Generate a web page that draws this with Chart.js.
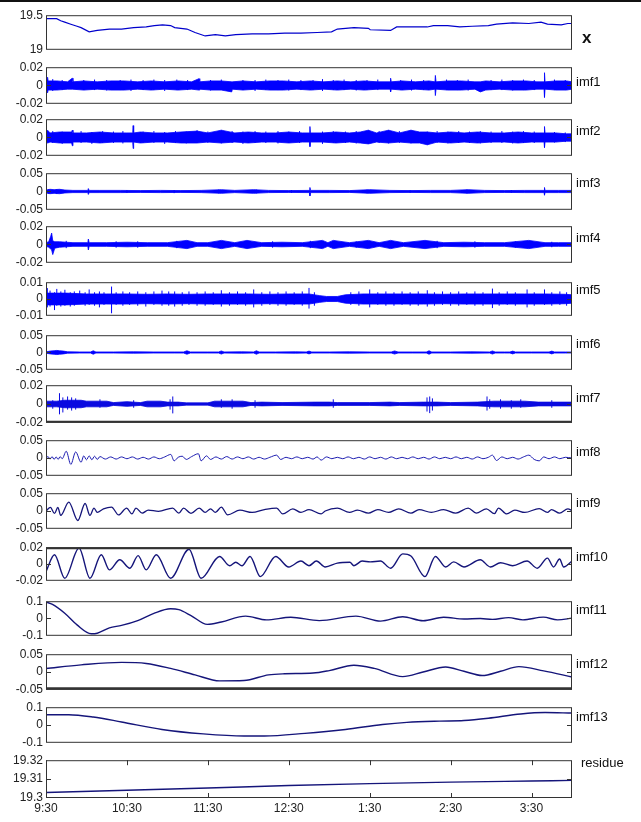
<!DOCTYPE html>
<html>
<head>
<meta charset="utf-8">
<script src="https://cdn.jsdelivr.net/npm/chart.js@4.4.0/dist/chart.umd.min.js"></script>
<style>
  body { margin: 0; background: #fff; width: 641px; height: 822px; position: relative; overflow: hidden;
         font-family: "Liberation Sans", Arial, sans-serif; }
  .topline { position: absolute; left: 0; top: 0; width: 641px; height: 2px; background: #111; }
  .lbl { position: absolute; font-size: 13px; line-height: 16px; color: #111; white-space: nowrap; }
</style>
</head>
<body>
<div class="topline"></div>
<script>
// time axis is in minutes after 9:30
const timeTicks = [0, 60, 120, 180, 240, 300, 360];
const timeLabels = ['9:30', '10:30', '11:30', '12:30', '1:30', '2:30', '3:30'];

// original series x
const xT = [0, 7.9, 10.9, 13.9, 18.4, 23, 26, 32, 38, 47, 56, 65, 74.3, 80.3, 86.4, 92.4, 95.4, 104.5, 110.5, 118,
  125.6, 133, 140.7, 152.8, 165, 177, 189, 201, 211.7, 216, 228.3, 239, 240.4, 255.5, 260, 270.6, 282.7, 287.2, 297.8, 306.8,
  316, 328, 334, 346, 358, 367, 371.8, 382, 386.9, 390];
const xV = [19.45, 19.45, 19.42, 19.40, 19.37, 19.34, 19.32, 19.26, 19.28, 19.30, 19.30, 19.32, 19.33, 19.35, 19.36, 19.35, 19.32, 19.30, 19.25, 19.20,
  19.22, 19.20, 19.22, 19.23, 19.23, 19.24, 19.24, 19.25, 19.26, 19.30, 19.32, 19.31, 19.29, 19.28, 19.33, 19.33, 19.33, 19.35, 19.35, 19.33,
  19.34, 19.35, 19.37, 19.39, 19.38, 19.40, 19.37, 19.36, 19.38, 19.38];

// imf1..imf7 are dense noise: a band (upper / lower envelope) plus the single spikes that stick out of it
const imf1T = [0, 1.2, 1.6, 8, 16, 19.5, 20, 28, 38, 48, 58, 68, 78, 88, 98, 108, 113.5, 114, 122, 130,
  137.7, 138.2, 146, 156, 166, 176, 186, 196, 206, 216, 226, 236, 246, 255.2, 255.5, 256, 264, 274, 284, 288.4,
  288.7, 289.2, 298, 308, 318, 322, 326, 336, 346, 356, 364, 369.3, 369.6, 370, 378, 386, 390];
const imf1U = [.004, .009, .005, .005, .004, .008, .004, .005, .004, .005, .005, .004, .005, .004, .005, .004, .0075, .004, .005, .005,
  .004, .004, .005, .004, .005, .005, .004, .005, .004, .005, .004, .005, .004, .004, .008, .004, .005, .004, .005, .004,
  .011, .004, .005, .005, .004, .004, .005, .004, .005, .005, .004, .004, .014, .004, .005, .005, .004];
const imf1L = [-.004, -.008, -.005, -.005, -.004, -.004, -.004, -.005, -.004, -.005, -.005, -.004, -.005, -.004, -.005, -.004, -.005, -.004, -.005, -.005,
  -.007, -.004, -.005, -.004, -.005, -.005, -.004, -.005, -.004, -.005, -.004, -.005, -.004, -.004, -.007, -.004, -.005, -.004, -.005, -.004,
  -.011, -.004, -.005, -.005, -.004, -.007, -.005, -.004, -.005, -.005, -.004, -.004, -.013, -.004, -.005, -.005, -.004];
const imf1S  = [5, 12, 28, 36, 45, 55, 63, 72, 80, 88, 97, 105, 122, 130, 146, 155, 163, 172, 180, 189,
  198, 205, 213, 221, 230, 238, 246, 263, 271, 280, 297, 305, 313, 330, 338, 346, 354, 362, 377, 385];
const imf1SH = [.007, .006, .006, .0065, .006, .006, .0065, .006, .0065, .006, .0065, .006, .006, .0065, .006, .006, .0065, .006, .0065, .006,
  .006, .007, .006, .0065, .006, .006, .0065, .006, .0065, .006, .0065, .006, .0065, .006, .0065, .006, .0065, .006, .0065, .006];
const imf1SL = [-.006, -.005, -.005, -.005, -.0055, -.005, -.006, -.005, -.005, -.006, -.005, -.005, -.0055, -.005, -.005, -.006, -.005, -.005, -.0055, -.005,
  -.005, -.006, -.005, -.005, -.0055, -.005, -.005, -.005, -.0055, -.005, -.005, -.005, -.0055, -.005, -.005, -.0055, -.005, -.005, -.005, -.005];

const imf2T = [0, 1.2, 3, 10, 19, 19.5, 20, 30, 40, 50, 60, 64.3, 64.6, 65, 70, 80, 90, 100, 112, 120,
  130, 140, 150, 160, 170, 180, 190, 195.4, 195.7, 196, 205, 215, 225, 233, 239, 245, 254, 262, 270.6, 277,
  282.7, 290, 300, 310, 320, 330, 340, 350, 360, 369.3, 369.6, 370, 378, 386, 390];
const imf2U = [.005, .008, .005, .006, .006, .008, .005, .005, .006, .005, .005, .005, .013, .005, .006, .005, .005, .006, .007, .005,
  .008, .005, .006, .005, .005, .006, .005, .005, .012, .005, .005, .006, .005, .006, .008, .005, .008, .005, .008, .006,
  .006, .005, .006, .005, .006, .005, .005, .006, .005, .005, .012, .005, .005, .004, .004];
const imf2L = [-.005, -.006, -.005, -.006, -.006, -.009, -.005, -.005, -.006, -.005, -.005, -.005, -.012, -.005, -.006, -.005, -.005, -.006, -.006, -.005,
  -.006, -.005, -.006, -.005, -.005, -.006, -.005, -.005, -.01, -.005, -.005, -.006, -.005, -.006, -.007, -.005, -.006, -.005, -.006, -.006,
  -.008, -.005, -.006, -.005, -.006, -.005, -.005, -.006, -.005, -.005, -.011, -.005, -.005, -.004, -.004];
const imf2S  = [5, 12, 26, 34, 42, 50, 57, 72, 80, 88, 96, 104, 112, 120, 130, 138, 146, 155, 163, 172,
  180, 188, 205, 213, 222, 230, 239, 247, 254, 262, 270.6, 282.7, 290, 298, 306, 314, 322, 330, 338, 346, 354, 362, 377, 385];
const imf2SH = [.007, .0065, .007, .006, .007, .0065, .007, .0065, .007, .006, .007, .0065, .008, .0065, .008, .007, .0065, .007, .0065, .007,
  .0065, .007, .0065, .007, .0065, .007, .008, .007, .008, .007, .008, .0065, .007, .0065, .007, .0065, .007, .0065, .007, .0065, .007, .0065, .006, .0055];
const imf2SL = [-.006, -.007, -.006, -.007, -.006, -.006, -.0065, -.006, -.006, -.007, -.006, -.0065, -.006, -.006, -.0065, -.006, -.007, -.006, -.006, -.0065,
  -.006, -.006, -.007, -.006, -.006, -.0065, -.007, -.006, -.0065, -.006, -.0065, -.008, -.006, -.0065, -.006, -.006, -.0065, -.006, -.006, -.0065, -.006, -.006, -.0055, -.005];

const imf3T = [0, 3, 6, 10, 14, 20, 31, 31.4, 32, 40, 55, 70, 85, 100, 115, 130, 140, 154, 165, 180,
  195.3, 195.7, 196.1, 210, 225, 240, 255, 270, 285, 300, 313, 325, 340, 355, 369.3, 369.6, 370, 380, 390];
const imf3U = [.004, .006, .005, .006, .004, .003, .003, .008, .003, .003, .003, .0025, .003, .0025, .003, .005, .003, .005, .003, .0025,
  .003, .011, .003, .003, .0025, .005, .003, .0025, .003, .003, .005, .003, .0025, .003, .003, .011, .003, .003, .003];
const imf3L = [-.004, -.006, -.005, -.006, -.004, -.003, -.003, -.008, -.003, -.003, -.003, -.0025, -.003, -.0025, -.003, -.005, -.003, -.005, -.003, -.0025,
  -.003, -.012, -.003, -.003, -.0025, -.005, -.003, -.0025, -.003, -.003, -.005, -.003, -.0025, -.003, -.003, -.01, -.003, -.003, -.003];
const imf3S  = [2, 8, 60, 95, 128, 156, 182, 238, 270, 312, 345];
const imf3SH = [.006, .006, .004, .004, .005, .005, .004, .005, .004, .005, .004];
const imf3SL = [-.006, -.007, -.004, -.0045, -.005, -.005, -.004, -.005, -.004, -.005, -.004];

const imf4T = [0, 2, 3.5, 4.2, 5, 6.5, 10, 20, 31, 31.4, 32, 45, 60, 75, 90, 104.5, 112, 120, 130, 140,
  149, 160, 175, 190, 205, 209, 213, 225, 239, 247, 255.5, 265, 281, 295, 310, 325, 340, 358, 370, 380, 390];
const imf4U = [.002, .003, .009, .0125, .004, .003, .003, .002, .002, .006, .002, .002, .0025, .002, .002, .0045, .002, .002, .0045, .002,
  .0045, .002, .0025, .002, .0045, .002, .0045, .002, .0045, .002, .0045, .002, .0045, .002, .0025, .002, .002, .0045, .002, .002, .002];
const imf4L = [-.002, -.003, -.005, -.006, -.011, -.004, -.003, -.002, -.002, -.006, -.002, -.002, -.0025, -.002, -.002, -.0045, -.002, -.002, -.0045, -.002,
  -.0045, -.002, -.0025, -.002, -.0045, -.002, -.0045, -.002, -.0045, -.002, -.0045, -.002, -.0045, -.002, -.0025, -.002, -.002, -.0045, -.002, -.002, -.002];
const imf4S  = [15, 52, 68, 97, 168, 196, 230, 290, 318, 348, 375];
const imf4SH = [.004, .0035, .0035, .004, .0035, .004, .0035, .004, .0035, .0035, .003];
const imf4SL = [-.004, -.0035, -.0035, -.004, -.0035, -.004, -.0035, -.004, -.0035, -.0035, -.003];

const imf5T = [0, 15, 30, 45, 60, 75, 90, 105, 120, 135, 150, 165, 180, 195, 203, 208, 216, 222, 235, 250,
  265, 280, 295, 310, 325, 340, 355, 370, 385, 390];
const imf5U = [.0035, .0035, .003, .003, .003, .0028, .003, .0028, .003, .003, .003, .0028, .003, .003, .002, .0015, .0015, .0025, .003, .003,
  .003, .003, .0028, .003, .003, .003, .003, .003, .0028, .0025];
const imf5L = [-.0035, -.0035, -.003, -.003, -.003, -.0028, -.003, -.0028, -.003, -.003, -.003, -.0028, -.003, -.003, -.002, -.0015, -.0015, -.0025, -.003, -.003,
  -.003, -.003, -.0028, -.003, -.003, -.003, -.003, -.003, -.0028, -.0025];
const imf5S  = [1, 3, 6.3, 8, 11, 14, 18, 21, 25, 29, 32, 36, 39.6, 43, 48.6, 52, 57, 62, 68, 74,
  80, 86, 91, 95.4, 101, 106, 112, 118, 124, 130, 136, 142, 148, 154, 160, 166, 172, 178, 184, 190,
  195, 199, 226, 232, 240, 246, 252, 258, 264, 270, 276, 282.7, 288, 294, 300, 306, 312, 318, 324, 331,
  336, 342, 348, 356.7, 362, 369.6, 375, 381, 386];
const imf5SH = [.0065, .005, .004, .006, .0045, .0055, .004, .0045, .005, .004, .0057, .004, .0045, .004, .0074, .004, .0045, .004, .0045, .004,
  .0045, .005, .0045, .0045, .004, .0045, .004, .0045, .004, .0052, .004, .0045, .004, .0057, .004, .0045, .004, .0045, .004, .0045,
  .0066, .004, .004, .0045, .0057, .004, .0045, .004, .0045, .004, .0045, .0052, .004, .0045, .004, .0045, .004, .0045, .004, .0062,
  .004, .0045, .004, .0057, .004, .0057, .004, .0045, .004];
const imf5SL = [-.005, -.0045, -.0066, -.004, -.0045, -.004, -.0045, -.004, -.003, -.004, -.0035, -.004, -.005, -.0035, -.0085, -.0035, -.004, -.0035, -.004, -.0045,
  -.0035, -.004, -.004, -.0045, -.004, -.0035, -.004, -.004, -.0035, -.0045, -.004, -.0035, -.004, -.005, -.004, -.0035, -.004, -.004, -.0035, -.004,
  -.0057, -.004, -.0035, -.004, -.005, -.0035, -.004, -.004, -.0035, -.004, -.004, -.0045, -.004, -.0035, -.004, -.004, -.0035, -.004, -.004, -.0054,
  -.004, -.0035, -.004, -.005, -.004, -.0035, -.004, -.0035, -.004];

const imf6T = [0, 3, 6, 8, 10, 13, 16, 25, 33, 35, 37, 50, 65, 80, 95, 102, 104.5, 107, 120, 128,
  130, 132, 145, 154, 156, 158, 170, 185, 193, 195, 197, 210, 225, 240, 256, 258.5, 261, 272, 282, 284,
  286, 300, 315, 329, 331, 333, 340, 344, 346, 348, 360, 373, 375, 377, 385, 390];
const imf6U = [.002, .004, .005, .006, .005, .004, .002, .0015, .0015, .005, .0015, .0015, .002, .0015, .0015, .0015, .005, .0015, .0015, .0015,
  .0045, .0015, .002, .0015, .005, .0015, .0015, .002, .0015, .004, .0015, .0015, .002, .0015, .0015, .0045, .0015, .0015, .0015, .005,
  .0015, .0015, .002, .0015, .0045, .0015, .0015, .0015, .004, .0015, .0015, .0015, .004, .0015, .0015, .0015];
const imf6L = [-.002, -.004, -.005, -.006, -.005, -.004, -.002, -.0015, -.0015, -.005, -.0015, -.0015, -.002, -.0015, -.0015, -.0015, -.005, -.0015, -.0015, -.0015,
  -.0045, -.0015, -.002, -.0015, -.005, -.0015, -.0015, -.002, -.0015, -.004, -.0015, -.0015, -.002, -.0015, -.0015, -.0045, -.0015, -.0015, -.0015, -.005,
  -.0015, -.0015, -.002, -.0015, -.0045, -.0015, -.0015, -.0015, -.004, -.0015, -.0015, -.0015, -.004, -.0015, -.0015, -.0015];

const imf7T = [0, 8, 14, 26, 30, 45, 50, 60, 70, 75, 85, 90, 98, 104, 120, 125, 146, 152, 160, 175,
  200, 210, 216, 240, 255, 262, 280, 290, 300, 320, 332, 355, 365, 390];
const imf7U = [.003, .003, .004, .004, .003, .003, .0015, .0025, .0015, .003, .003, .002, .002, .0012, .0012, .003, .003, .0015, .002, .0015,
  .002, .002, .0015, .0015, .002, .0015, .002, .002, .0015, .002, .003, .003, .002, .002];
const imf7L = [-.003, -.003, -.004, -.004, -.003, -.003, -.0015, -.0025, -.0015, -.003, -.003, -.002, -.002, -.0012, -.0012, -.003, -.003, -.0015, -.002, -.0015,
  -.002, -.002, -.0015, -.0015, -.002, -.0015, -.002, -.002, -.0015, -.002, -.003, -.003, -.002, -.002];
const imf7S  = [5, 10, 12.5, 16, 19, 22, 40, 65, 92, 94, 130, 138, 155, 213, 282.5, 284.5, 286.5, 327, 329, 337, 345, 352, 375];
const imf7SH = [.004, .0115, .007, .008, .007, .006, .005, .004, .005, .008, .005, .005, .004, .005, .007, .008, .006, .008, .005, .005, .004, .005, .004];
const imf7SL = [-.005, -.011, -.009, -.006, -.007, -.006, -.004, -.004, -.006, -.01, -.004, -.005, -.004, -.004, -.008, -.0097, -.007, -.007, -.005, -.005, -.005, -.004, -.004];

// imf8..imf13, residue: lines through the turning points
const imf8T = [0, 1.5, 3, 4.5, 6, 7.5, 9, 10.5, 12, 15, 18.4, 22, 26, 28, 30, 32, 34, 36, 38, 40,
  44, 48, 52, 56, 60, 64, 68, 72, 76, 80, 84, 88, 92.5, 95, 98, 101, 104, 108, 113, 115,
  119, 122, 126, 130, 134, 138, 142, 146, 150, 154, 158, 162, 166, 171, 174, 178, 182, 186, 190, 194,
  198, 201, 204, 208, 212, 216, 220, 224, 228, 232, 236, 240, 244, 248, 252, 256, 260, 264, 268, 272,
  276, 280, 284, 288, 292, 296, 300, 304, 308, 312, 316, 320, 324, 328, 331, 334, 338, 342, 346, 350,
  354, 358, 362, 365.7, 369, 373, 377, 381, 385, 390];
const imf8V = [0, .004, -.003, .004, -.004, .003, -.004, .004, -.002, .019, -.018, .017, -.012, .006, -.005, .006, -.005, .005, -.004, .004,
  -.003, .003, -.003, .003, -.002, .003, -.003, .002, -.003, .003, -.002, .003, .01, -.008, .002, .005, -.004, .004, .012, -.008,
  .006, -.004, .003, -.003, .004, -.003, .003, -.002, .003, -.003, .002, -.003, .002, .008, -.004, .002, -.002, .003, -.002, .002,
  -.003, .003, -.006, .003, -.002, .002, -.002, .003, -.002, .002, -.003, .003, -.002, .002, -.003, .003, -.002, .002, -.002, .003,
  -.002, .002, -.003, .003, -.002, .002, -.002, .003, -.002, .002, -.003, .003, -.002, .002, .008, -.007, .003, -.002, .002, -.003,
  .003, .008, -.004, -.008, .003, -.002, .003, -.002, .002, 0];

const imf9T = [0, 3.3, 6.3, 8.8, 10.9, 16.9, 23.6, 29, 32.6, 35.6, 38, 42.6, 48.6, 53.8, 59.8, 63.7, 66.7, 71.3, 75.8, 83.4,
  93.9, 98.5, 102, 107.5, 113.6, 118, 122, 125.6, 130, 134.7, 143.8, 152.8, 161.9, 171, 175.5, 183, 189, 195, 204, 207,
  216, 225, 231, 239, 246, 254, 261.5, 270.6, 276.6, 285.7, 294.8, 303.8, 313, 319, 326.5, 332.5, 335.5, 341.6, 347.6, 355,
  365.7, 371.8, 374.8, 380.8, 386.9, 390];
const imf9V = [0, .01, -.0067, .01, -.0125, .025, -.0267, .021, -.0125, .0083, -.004, .006, .011, -.011, .0083, -.0083, .0083, -.006, .0025, -.001,
  .0083, -.006, .0083, -.0067, .0083, -.004, .006, -.004, .011, -.011, .0025, -.004, .004, .0083, -.0083, .006, -.004, .004, -.0083, 0,
  .0083, -.004, .0025, -.006, .004, -.004, .006, -.006, .004, -.004, .004, -.006, .0083, -.006, .006, -.0075, .0083, -.0083, .0025, -.004,
  .0067, -.004, .004, -.006, .006, .001];

const imf10T = [0, 6.3, 13.9, 24.5, 32.6, 41, 47, 54.7, 62.2, 68.3, 74.3, 81.8, 92.4, 106, 115, 128.7, 136.2, 140.7, 145.3, 151.3,
  158.9, 170.3, 180, 189, 195, 200.5, 207, 216, 225.3, 228.3, 234.4, 240.4, 248, 255.5, 264.5, 270.6, 281, 288.7, 296.3, 302.3,
  309.9, 322, 329.5, 337, 346, 356.7, 364.2, 371.8, 376.3, 380.8, 383.8, 390];
const imf10V = [-.009, .011, -.017, .019, -.017, .011, -.007, .005, -.005, .01, -.007, .011, -.017, .0175, -.017, .009, -.002, .002, -.002, .009,
  -.015, .009, -.0035, .0035, -.002, .0035, -.0035, .001, .002, -.002, .0035, .0025, .0035, -.005, .012, .0095, -.015, .009, -.0035, .0025,
  -.0035, .005, -.0035, .0015, -.002, .0035, -.005, .007, -.0035, .006, -.0035, .0035];

const imf11T = [0, 4.8, 13.9, 23, 33.5, 38, 47, 56, 68, 80, 92.4, 98.5, 107.5, 119.6, 130, 148, 163.4, 181.5, 202.6, 229.8,
  248, 264.5, 279.6, 294.8, 309.9, 322, 331, 343, 353.6, 368.7, 379.3, 390];
const imf11V = [.095, .081, .03, -.037, -.088, -.085, -.054, -.04, -.012, .03, .056, .051, .017, -.034, -.02, .014, -.008, .007, -.012, .014,
  -.015, .01, -.013, .007, -.003, 0, -.005, .005, -.008, .008, -.008, .002];

const imf12T = [0, 26, 56, 74.3, 92.4, 110.5, 128.7, 146.8, 165, 177, 198, 210, 228.3, 243.4, 264.5, 279.6, 296.3, 309.9, 323.4, 337,
  350.6, 369, 390];
const imf12V = [.01, .02, .027, .024, .01, -.008, -.025, -.024, -.008, -.005, -.003, .004, .019, .01, -.013, 0, .014, .002, -.01, .002,
  .015, .003, -.014];

const imf13T = [0, 16.9, 35, 56, 86, 116.6, 146.8, 161.9, 192, 222, 249.5, 267.6, 291.7, 309.9, 328, 352, 370, 390];
const imf13V = [.058, .058, .045, .017, -.025, -.05, -.062, -.062, -.047, -.025, .003, .015, .022, .025, .038, .062, .07, .067];

const residueT = [0, 60, 120, 180, 240, 300, 360, 390];
const residueV = [19.3029, 19.3041, 19.3053, 19.3066, 19.3076, 19.3084, 19.309, 19.3093];

// y tick labels of each panel
const xTicks = ['19', '19.5'];
const ticks01 = ['-0.01', '0', '0.01'];
const ticks02 = ['-0.02', '0', '0.02'];
const ticks05 = ['-0.05', '0', '0.05'];
const ticks1 = ['-0.1', '0', '0.1'];
const residueTicks = ['19.3', '19.31', '19.32'];

const NOISE = '#0000ff';
const NAVY = '#15157a';

const panels = [
  { name: 'x',       t: xT,    v: xV,    ticks: xTicks,  color: '#0000cc', w: 1.2 },
  { name: 'imf1',    t: imf1T, u: imf1U, l: imf1L, s: imf1S, sh: imf1SH, sl: imf1SL, ticks: ticks02, color: NOISE },
  { name: 'imf2',    t: imf2T, u: imf2U, l: imf2L, s: imf2S, sh: imf2SH, sl: imf2SL, ticks: ticks02, color: NOISE },
  { name: 'imf3',    t: imf3T, u: imf3U, l: imf3L, s: imf3S, sh: imf3SH, sl: imf3SL, ticks: ticks05, color: NOISE },
  { name: 'imf4',    t: imf4T, u: imf4U, l: imf4L, s: imf4S, sh: imf4SH, sl: imf4SL, ticks: ticks02, color: NOISE },
  { name: 'imf5',    t: imf5T, u: imf5U, l: imf5L, s: imf5S, sh: imf5SH, sl: imf5SL, ticks: ticks01, color: NOISE },
  { name: 'imf6',    t: imf6T, u: imf6U, l: imf6L, ticks: ticks05, color: NOISE },
  { name: 'imf7',    t: imf7T, u: imf7U, l: imf7L, s: imf7S, sh: imf7SH, sl: imf7SL, ticks: ticks02, color: '#0a0ae0', bottomW: 2 },
  { name: 'imf8',    t: imf8T,    v: imf8V,    ticks: ticks05, color: '#1c1cb0', w: 1, smooth: true },
  { name: 'imf9',    t: imf9T,    v: imf9V,    ticks: ticks05, color: NAVY, w: 1.3, smooth: true },
  { name: 'imf10',   t: imf10T,   v: imf10V,   ticks: ticks02, color: NAVY, w: 1.4, smooth: true, topW: 2 },
  { name: 'imf11',   t: imf11T,   v: imf11V,   ticks: ticks1,  color: NAVY, w: 1.4, smooth: true },
  { name: 'imf12',   t: imf12T,   v: imf12V,   ticks: ticks05, color: NAVY, w: 1.4, smooth: true, bottomW: 2.5 },
  { name: 'imf13',   t: imf13T,   v: imf13V,   ticks: ticks1,  color: NAVY, w: 1.4, smooth: true },
  { name: 'residue', t: residueT, v: residueV, ticks: residueTicks, color: NAVY, w: 1.4, smooth: true }
];

// layout of the stacked axes (page pixels)
const tops    = [13, 65, 117, 171, 224, 280, 333, 383, 438, 491, 545, 599, 652, 705, 758];
const bottoms = [52, 106, 158, 212, 265, 318, 372, 425, 478, 531, 583, 638, 692, 745, 798];
const labelMid = [38, 82, 131, 183, 238, 290, 344, 398, 452, 503, 557, 610, 664, 717, 763];
const PLOT_LEFT = 46, PLOT_RIGHT = 572, PAD = 8, XAXIS_H = 18;
const FONT = '"Liberation Sans", Arial, sans-serif';

const boxPlugin = {
  id: 'matlabBox',
  afterDatasetsDraw(chart, args, opts) {
    const { ctx, chartArea: a, scales } = chart;
    const line = (x1, y1, x2, y2) => { ctx.beginPath(); ctx.moveTo(x1, y1); ctx.lineTo(x2, y2); ctx.stroke(); };
    ctx.save();
    ctx.strokeStyle = '#333';
    ctx.lineWidth = 1;
    ctx.strokeRect(a.left + 0.5, a.top + 0.5, a.width - 1, a.height - 1);
    if (opts.topW) { ctx.lineWidth = opts.topW; line(a.left, a.top + opts.topW / 2, a.right, a.top + opts.topW / 2); }
    if (opts.bottomW) { ctx.lineWidth = opts.bottomW; line(a.left, a.bottom - opts.bottomW / 2, a.right, a.bottom - opts.bottomW / 2); }
    ctx.lineWidth = 1;
    // inward ticks, matlab style
    scales.y.ticks.forEach(t => {
      const y = Math.round(scales.y.getPixelForValue(t.value)) + 0.5;
      if (y < a.top + 2 || y > a.bottom - 2) return;
      line(a.left, y, a.left + 5, y);
      line(a.right - 5, y, a.right, y);
    });
    if (scales.x.options.display) {
      scales.x.ticks.forEach(t => {
        const x = Math.round(scales.x.getPixelForValue(t.value)) + 0.5;
        line(x, a.bottom, x, a.bottom - 5);
        line(x, a.top, x, a.top + 5);
      });
    }
    ctx.restore();
  }
};

function pts(t, v) {
  return t.map((x, i) => ({ x: x, y: v[i] }));
}

// vertical strokes, one per spike, separated by gaps
function spikePts(s, hi, lo) {
  const out = [];
  s.forEach((x, i) => { out.push({ x: x, y: lo[i] }, { x: x, y: hi[i] }, { x: x, y: null }); });
  return out;
}

panels.forEach((p, i) => {
  const isLast = i === panels.length - 1;
  const h = bottoms[i] - tops[i];
  const canvas = document.createElement('canvas');
  canvas.width = 641;
  canvas.height = h + PAD + (isLast ? XAXIS_H + 4 : PAD);
  canvas.style.position = 'absolute';
  canvas.style.left = '0px';
  canvas.style.top = (tops[i] - PAD) + 'px';
  document.body.appendChild(canvas);

  const lbl = document.createElement('div');
  lbl.className = 'lbl';
  lbl.textContent = p.name;
  if (p.name === 'x') {
    lbl.style.fontSize = '17px';
    lbl.style.fontWeight = 'bold';
    lbl.style.left = '582px';
  } else if (p.name === 'residue') {
    lbl.style.left = '581px';
  } else {
    lbl.style.left = '576px';
  }
  lbl.style.top = (labelMid[i] - 8) + 'px';
  document.body.appendChild(lbl);

  const yVals = p.ticks.map(Number);
  let datasets;
  if (p.u) {
    datasets = [
      { data: pts(p.t, p.u), borderColor: p.color, borderWidth: 0.8, fill: false },
      { data: pts(p.t, p.l), borderColor: p.color, borderWidth: 0.8, backgroundColor: p.color, fill: '-1' }
    ];
    if (p.s) {
      datasets.push({ data: spikePts(p.s, p.sh, p.sl), borderColor: p.color, borderWidth: 1, fill: false, spanGaps: false });
    }
  } else {
    datasets = [{
      data: pts(p.t, p.v), borderColor: p.color, borderWidth: p.w, fill: false,
      cubicInterpolationMode: p.smooth ? 'monotone' : 'default'
    }];
  }

  new Chart(canvas, {
    type: 'line',
    data: { datasets: datasets },
    options: {
      responsive: false,
      animation: false,
      devicePixelRatio: 1,
      layout: { padding: { left: 0, right: 641 - PLOT_RIGHT, top: PAD, bottom: isLast ? 4 : PAD } },
      elements: { point: { radius: 0 } },
      plugins: {
        legend: { display: false },
        tooltip: { enabled: false },
        matlabBox: { topW: p.topW, bottomW: p.bottomW }
      },
      scales: {
        x: {
          type: 'linear', min: 0, max: 390, display: isLast,
          grid: { display: false, drawTicks: false }, border: { display: false },
          afterBuildTicks: s => { s.ticks = timeTicks.map(v => ({ value: v })); },
          afterFit: s => { s.height = isLast ? XAXIS_H : 0; },
          ticks: {
            autoSkip: false, maxRotation: 0, padding: 3, color: '#222',
            font: { family: FONT, size: 12 },
            callback: (v, idx) => timeLabels[idx]
          }
        },
        y: {
          min: yVals[0], max: yVals[yVals.length - 1],
          grid: { display: false, drawTicks: false }, border: { display: false },
          afterBuildTicks: s => { s.ticks = yVals.map(v => ({ value: v })); },
          afterFit: s => { s.width = PLOT_LEFT; },
          ticks: {
            padding: 3, color: '#222', autoSkip: false,
            font: { family: FONT, size: 12 },
            callback: (v, idx) => p.ticks[idx]
          }
        }
      }
    },
    plugins: [boxPlugin]
  });
});
</script>
</body>
</html>
